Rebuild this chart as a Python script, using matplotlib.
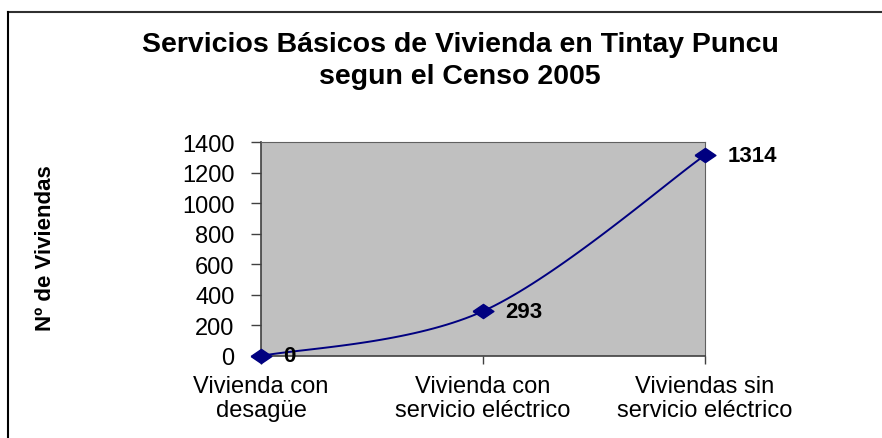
import numpy as np
import matplotlib.pyplot as plt
from matplotlib.lines import Line2D

# --- data ---
categorias = ["Vivienda con\ndesagüe", "Vivienda con\nservicio eléctrico", "Viviendas sin\nservicio eléctrico"]
viviendas = [0, 293, 1314]
y_ticks = [0, 200, 400, 600, 800, 1000, 1200, 1400]

titulo = "Servicios Básicos de Vivienda en Tintay Puncu\nsegun el Censo 2005"
y_label = "Nº de Viviendas"

NAVY = "#000080"

plt.rcParams['font.family'] = ['Liberation Sans', 'DejaVu Sans']


def smooth_line(xs, ys, n=40):
    """Bezier smoothing like the spreadsheet 'smoothed line' option."""
    pts = np.column_stack([xs, ys]).astype(float)
    padded = np.vstack([pts[0], pts, pts[-1]])
    out = []
    for i in range(len(pts) - 1):
        p0, p1, p2, p3 = padded[i], padded[i + 1], padded[i + 2], padded[i + 3]
        c1 = p1 + (p2 - p0) / 6.0
        c2 = p2 - (p3 - p1) / 6.0
        t = np.linspace(0, 1, n)[:, None]
        seg = ((1 - t) ** 3) * p1 + 3 * ((1 - t) ** 2) * t * c1 + 3 * (1 - t) * t ** 2 * c2 + t ** 3 * p2
        out.append(seg if i == 0 else seg[1:])
    seg = np.vstack(out)
    return seg[:, 0], seg[:, 1]


fig = plt.figure(figsize=(8.82, 4.39), dpi=100)
ax = fig.add_axes([261 / 882, 1 - 357 / 439, 444 / 882, 214 / 439])
ax.set_facecolor("#C0C0C0")

x = np.arange(len(categorias))
sx, sy = smooth_line(x, viviendas)
ax.plot(sx, sy, color=NAVY, lw=1.4, clip_on=False, zorder=3)

diamond = [(-1, 0), (0, 0.68), (1, 0), (0, -0.68), (-1, 0)]
ax.plot(x, viviendas, ls="none", marker=diamond, ms=15, color=NAVY, clip_on=False, zorder=4)

# data labels
for xi, v in zip(x, viviendas):
    ax.annotate(str(v), (xi, v), xytext=(16, 0), textcoords="offset points",
                ha="left", va="center", fontsize=16, fontweight="bold", zorder=5)

ax.set_xlim(0, len(categorias) - 1)
ax.set_ylim(0, 1400)
ax.set_yticks(y_ticks)
ax.set_xticks(x)
ax.set_xticklabels(categorias, fontsize=17, linespacing=1.12)
ax.tick_params(axis="y", labelsize=17, direction="out", length=7, width=1, color="#404040", pad=12)
ax.tick_params(axis="x", direction="out", length=6, width=1, color="#404040", pad=8)

for side in ["top", "right"]:
    ax.spines[side].set_color("#606060")
    ax.spines[side].set_linewidth(0.8)
for side in ["left", "bottom"]:
    ax.spines[side].set_color("#404040")
    ax.spines[side].set_linewidth(1.2)

fig.text(460 / 882, 1 - 61 / 439, titulo, ha="center", va="center",
         fontsize=20.5, fontweight="bold", linespacing=1.3)
fig.text(46 / 882, 1 - 248 / 439, y_label, ha="center", va="center",
         rotation=90, fontsize=16, fontweight="bold")

# outer chart frame (only top and left visible)
fig.add_artist(Line2D([8 / 882, 1.0], [1 - 12.5 / 439] * 2, color="#303030", lw=1.5))
fig.add_artist(Line2D([8 / 882] * 2, [0, 1 - 12.5 / 439], color="#000000", lw=1.5))

fig.savefig("out.png", dpi=100)
